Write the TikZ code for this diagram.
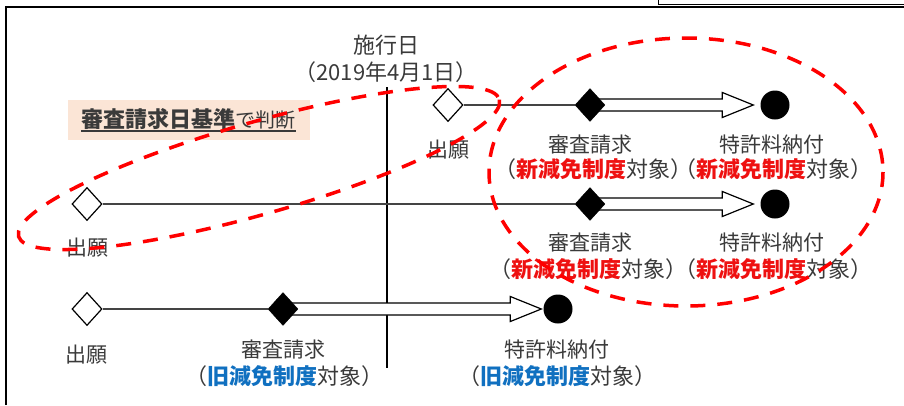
\documentclass[tikz,border=0pt]{standalone}
\usepackage{fontspec}
\setmainfont{Noto Sans CJK JP}
\usetikzlibrary{shapes.geometric,backgrounds,calc}
\definecolor{txt}{HTML}{3A3A3A}
\definecolor{rd}{HTML}{FF0000}
\definecolor{redtxt}{HTML}{EE1111}
\definecolor{bluetxt}{HTML}{1070C0}
\definecolor{peach}{HTML}{FBE5D6}
\definecolor{thin}{HTML}{444444}
\newcommand\hollowarrow[3]{%
  \path[arrowbody] let \p1=(#1.center), \p2=(#2.west) in
   (\x1,\y1+6pt) -- (\x2-#3pt-31pt,\y1+6pt) -- (\x2-#3pt-31pt,\y1+12.5pt) -- (\x2-#3pt,\y1)
   -- (\x2-#3pt-31pt,\y1-12.5pt) -- (\x2-#3pt-31pt,\y1-6pt) -- (\x1,\y1-6pt) -- cycle;}
\newcommand\newred[1]{（\textcolor{redtxt}{\bfseries 新減免制度}対象）}
\newcommand\oldblue[1]{（\textcolor{bluetxt}{\bfseries 旧減免制度}対象）}
\begin{document}
\begin{tikzpicture}[x=1pt,y=-1pt,
  font=\fontsize{21}{24}\selectfont, text=txt,
  lbl/.style={inner sep=0pt},
  plbl/.style={inner sep=0pt, font=\fontsize{22}{24}\selectfont},
  wdia/.style={diamond, draw=black, fill=white, line width=1.2pt, minimum width=30pt, minimum height=33pt, inner sep=0pt},
  bdia/.style={diamond, draw=black, fill=black, minimum width=30pt, minimum height=33pt, inner sep=0pt},
  dot/.style={circle, fill=black, minimum size=29pt, inner sep=0pt},
  thinline/.style={draw=thin, line width=1.8pt},
  arrowbody/.style={draw=black, fill=white, line width=1.2pt, line join=miter},
  reddash/.style={draw=rd, line width=3.5pt, dash pattern=on 15pt off 12pt}]
\useasboundingbox (0,0) rectangle (904,405);
% frame
\draw[line width=1.2pt] (6,405) -- (6,7) -- (904,7);
\draw[line width=1pt] (658,0) -- (658,4) -- (904,4);
% label box
\node[fill=peach, minimum width=242pt, minimum height=40pt, anchor=north west, inner sep=0pt] (box) at (68,100) {};
\node[anchor=base west, inner sep=0pt, font=\fontsize{22}{24}\selectfont\bfseries] (lb) at (81,127) {審査請求日基準};
\node[anchor=base west, inner sep=0pt, font=\fontsize{20}{22}\selectfont] (lc) at (lb.base east) {で判断};
\draw[line width=1.6pt, txt] ([yshift=-4pt]lb.base west) -- ([yshift=-4pt]lc.base east);
% title
\node[lbl, font=\fontsize{22}{24}\selectfont] (t1) at (386,45) {施行日};
\node[lbl, font=\fontsize{22}{24}\selectfont] (t2) at (386,72) {（2019年4月1日）};
\coordinate (vt) at (387,87);
\coordinate (vb) at (387,368);
% nodes
\node[wdia] (w1) at (448,105) {};
\node[bdia] (b1) at (590,105) {};
\node[dot] (c1) at (775,105) {};
\node[wdia] (w2) at (87,204) {};
\node[bdia] (b2) at (590,204) {};
\node[dot] (c2) at (775,204) {};
\node[wdia] (w3) at (87,309) {};
\node[bdia] (b3) at (283,309) {};
\node[dot] (c3) at (558,309) {};
\begin{pgfonlayer}{background}
\draw[line width=1.8pt, black] (vt) -- (vb);
\draw[thinline] (w1) -- (b1);
\draw[thinline] (w2) -- (b2);
\draw[thinline] (w3) -- (b3);
\hollowarrow{b1}{c1}{7}
\hollowarrow{b2}{c2}{7}
\hollowarrow{b3}{c3}{2}
\end{pgfonlayer}
% labels
\node[lbl] (l1a) at (448,150) {出願};
\node[lbl] (l1b) at (590,145) {審査請求};
\node[plbl] (l1c) at (593,169) {\newred{}};
\node[lbl] (l1d) at (772,145) {特許料納付};
\node[plbl] (l1e) at (773,169) {\newred{}};
\node[lbl] (l2a) at (87,248) {出願};
\node[lbl] (l2b) at (590,243) {審査請求};
\node[plbl] (l2c) at (588,269) {\newred{}};
\node[lbl] (l2d) at (772,243) {特許料納付};
\node[plbl] (l2e) at (773,269) {\newred{}};
\node[lbl] (l3a) at (86,355) {出願};
\node[lbl] (l3b) at (283,350) {審査請求};
\node[plbl] (l3c) at (284,376) {\oldblue{}};
\node[lbl] (l3d) at (557,350) {特許料納付};
\node[plbl] (l3e) at (557,376) {\oldblue{}};
% dashed ellipses
\draw[reddash, rotate around={15.9:(259,168)}] (259,168) ellipse [x radius=250, y radius=46];
\draw[reddash] (686,172) ellipse [x radius=197, y radius=134];
\end{tikzpicture}
\end{document}
